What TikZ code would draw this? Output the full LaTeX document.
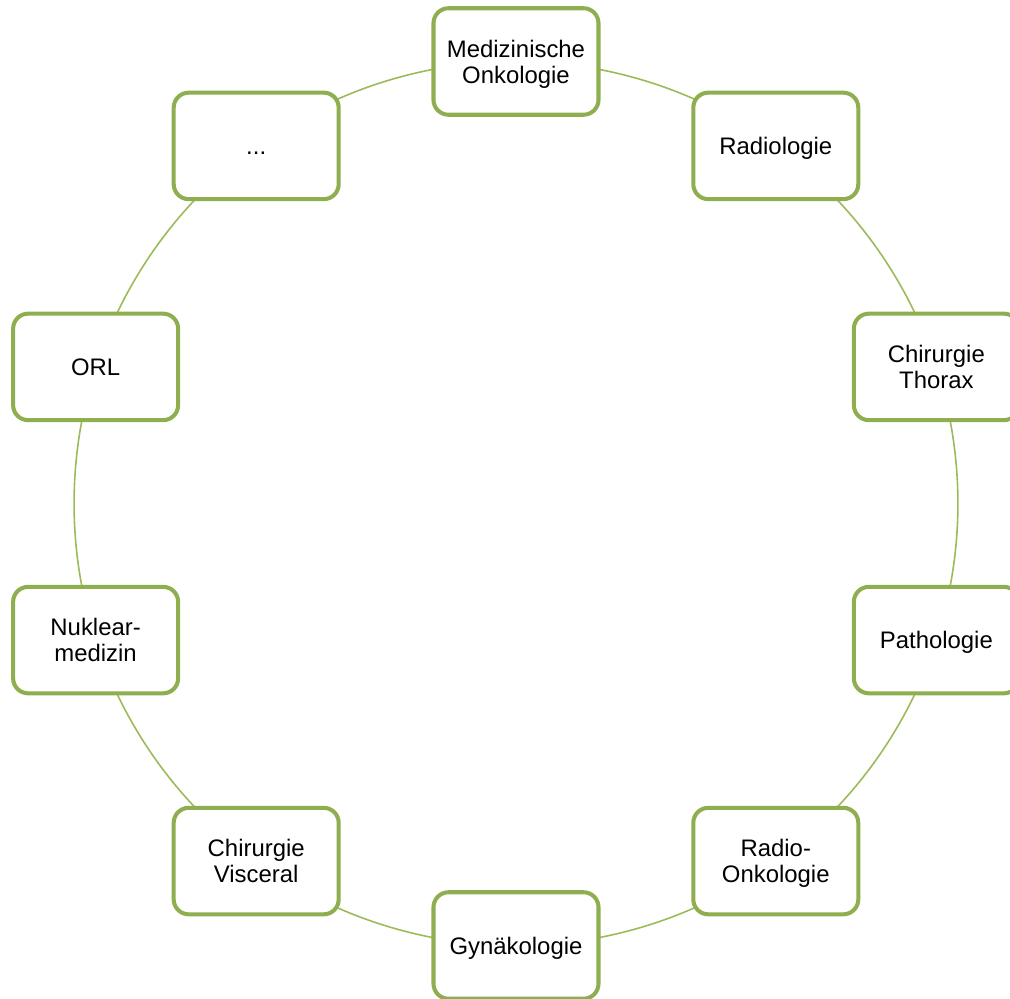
\documentclass[tikz,border=0pt]{standalone}
\usepackage{fontspec}
\setmainfont{Liberation Sans}
\usetikzlibrary{backgrounds}
\definecolor{boxgreen}{HTML}{8FAE50}
\definecolor{ringgreen}{HTML}{9BBB59}

\begin{document}
\begin{tikzpicture}[main node/.style={draw=boxgreen, line width=2.3pt, rounded corners=0.3cm, fill=white, minimum width=3.3cm, minimum height=2.13cm, text depth=0pt, align=center, font=\fontsize{13.6}{14.8}\selectfont}, ring/.style={draw=ringgreen, line width=0.9pt, bend left=18, looseness=0.873}]
\useasboundingbox (-10.32,-9.91) rectangle (9.88,10.07);
\node[main node] (med)  at (90:8.84)  {Medizinische\\Onkologie};
\node[main node] (rad)  at (54:8.84)  {Radiologie};
\node[main node] (thx)  at (18:8.84)  {Chirurgie\\Thorax};
\node[main node] (path) at (-18:8.84) {Pathologie};
\node[main node] (ronk) at (-54:8.84) {Radio-\\Onkologie};
\node[main node] (gyn)  at (-90:8.84) {Gynäkologie};
\node[main node] (visc) at (-126:8.84) {Chirurgie\\Visceral};
\node[main node] (nuk)  at (-162:8.84) {Nuklear-\\medizin};
\node[main node] (orl)  at (162:8.84) {ORL};
\node[main node] (dots) at (126:8.84) {\vphantom{R}...};

\begin{scope}[on background layer]
\foreach \a/\b in {med/rad, rad/thx, thx/path, path/ronk, ronk/gyn, gyn/visc, visc/nuk, nuk/orl, orl/dots, dots/med}
  \path[ring] (\a.center) to (\b.center);
\end{scope}
\end{tikzpicture}
\end{document}
